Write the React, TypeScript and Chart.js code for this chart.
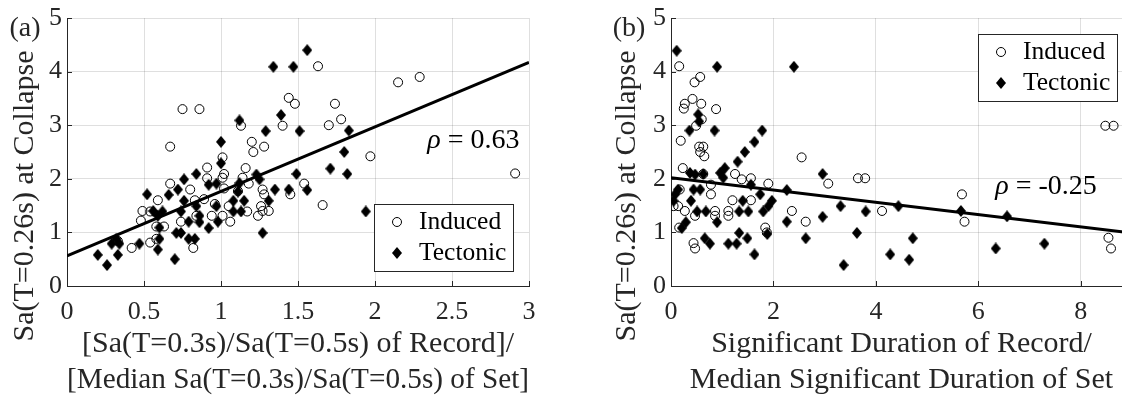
import { useEffect, useRef } from 'react';
import { Chart, registerables } from 'chart.js';

Chart.register(...registerables);

const FONT = "'Liberation Serif', serif";
const INK = '#262626';
const GRID = 'rgba(38, 38, 38, 0.15)';

// (a) Sa(T=0.26s) at collapse against the normalised spectral-shape ratio
const ratioInduced: [number, number][] = [
  [0.75, 3.3], [0.86, 3.3], [0.67, 2.6], [1.01, 2.4], [1.13, 2.99], [1.2, 2.69], [1.21, 2.5],
  [1.28, 2.6], [1.44, 3.51], [1.48, 3.4], [1.4, 2.99], [1.63, 4.1], [2.15, 3.8], [2.29, 3.9],
  [1.74, 3.4], [1.7, 3.0], [1.78, 3.11], [1.97, 2.42], [2.91, 2.1], [1.54, 1.91], [1.66, 1.51],
  [0.91, 2.21], [1.02, 2.09], [1.16, 2.2], [0.91, 2.01], [0.67, 1.91], [0.8, 1.8], [1.01, 2.02],
  [1.02, 1.82], [1.14, 2.02], [1.18, 1.91], [1.27, 1.8], [1.28, 1.71], [1.26, 1.49], [1.27, 1.4],
  [1.31, 1.4], [1.24, 1.31], [1.45, 1.71], [0.59, 1.6], [0.83, 1.6], [0.89, 1.62], [0.49, 1.4],
  [0.54, 1.39], [0.48, 1.22], [0.74, 1.2], [0.84, 1.31], [0.94, 1.31], [1.01, 1.31], [0.96, 1.53],
  [1.05, 1.49], [1.06, 1.2], [1.17, 1.39], [1.11, 1.77], [0.58, 1.11], [0.63, 1.11], [0.58, 0.88],
  [0.82, 0.71], [0.54, 0.81], [0.42, 0.71], [0.33, 0.84],
];
const ratioTectonic: [number, number][] = [
  [1.0, 2.69], [1.12, 3.09], [1.29, 2.89], [1.34, 4.09], [1.47, 4.09], [1.56, 4.4], [1.39, 3.19],
  [1.51, 2.89], [1.83, 2.9], [1.8, 2.5], [1.71, 2.19], [1.82, 2.09], [1.56, 1.79], [1.94, 1.39],
  [1.0, 2.29], [0.84, 2.09], [0.76, 1.99], [0.72, 1.8], [0.92, 1.89], [0.97, 1.91], [1.12, 1.92],
  [1.23, 2.08], [1.25, 1.99], [1.35, 1.8], [1.31, 1.59], [1.27, 0.99], [1.44, 1.8], [1.49, 2.09],
  [0.52, 1.71], [0.66, 1.7], [0.76, 1.59], [0.84, 1.49], [0.56, 1.4], [0.62, 1.39], [0.59, 1.31],
  [0.74, 1.39], [0.79, 1.2], [0.86, 1.31], [0.86, 1.19], [0.92, 1.08], [0.98, 1.2], [0.97, 1.49],
  [1.08, 1.59], [1.08, 1.39], [1.13, 1.39], [1.15, 1.59], [1.11, 1.76], [0.6, 1.09], [0.6, 0.88],
  [0.71, 0.99], [0.74, 0.99], [0.79, 0.88], [0.83, 0.88], [0.59, 0.68], [0.47, 0.79], [0.32, 0.88],
  [0.29, 0.79], [0.34, 0.79], [0.33, 0.58], [0.2, 0.58], [0.26, 0.39], [0.7, 0.5],
];
const ratioFit: [number, number][] = [[0, 0.56], [3, 4.17]];
const ratioRho = 0.63;
const ratioTicks = [0, 0.5, 1, 1.5, 2, 2.5, 3];
const ratioTitle = ['[Sa(T=0.3s)/Sa(T=0.5s) of Record]/', '[Median Sa(T=0.3s)/Sa(T=0.5s) of Set]'];

// (b) Sa(T=0.26s) at collapse against the normalised significant duration
const durationInduced: [number, number][] = [
  [0.16, 4.1], [0.57, 3.9], [0.46, 3.8], [0.42, 3.49], [0.27, 3.4], [0.25, 3.31], [0.59, 3.4],
  [0.88, 3.3], [0.6, 3.11], [0.49, 2.99], [0.19, 2.71], [0.55, 2.6], [0.63, 2.6], [0.57, 2.5],
  [0.65, 2.42], [2.55, 2.4], [0.23, 2.2], [0.63, 2.09], [1.25, 2.09], [1.38, 1.99], [1.56, 2.01],
  [1.9, 1.91], [3.07, 1.91], [3.65, 2.01], [3.79, 2.01], [4.12, 1.4], [2.36, 1.4], [2.63, 1.2],
  [1.56, 1.6], [1.2, 1.6], [1.12, 1.4], [1.12, 1.31], [0.86, 1.4], [0.86, 1.31], [0.27, 1.4],
  [0.47, 1.31], [0.78, 1.71], [0.78, 1.89], [0.05, 1.49], [0.14, 1.49], [0.17, 1.8], [0.16, 1.09],
  [0.44, 0.8], [0.47, 0.7], [1.84, 1.09], [1.87, 1.0], [5.68, 1.71], [5.73, 1.2], [8.54, 0.9],
  [8.59, 0.7], [8.48, 2.99], [8.64, 2.99],
];
const durationTectonic: [number, number][] = [
  [0.11, 4.39], [0.9, 4.09], [2.4, 4.09], [0.53, 3.2], [0.55, 3.07], [0.36, 2.9], [0.85, 2.9],
  [1.78, 2.9], [1.63, 2.69], [1.44, 2.5], [1.3, 2.32], [1.05, 2.2], [0.37, 2.11], [0.47, 2.08],
  [0.63, 2.09], [0.96, 2.11], [1.02, 2.02], [1.56, 1.89], [2.96, 2.09], [2.26, 1.79], [3.31, 1.49],
  [3.8, 1.39], [3.63, 0.99], [3.37, 0.39], [2.26, 1.2], [2.96, 1.29], [2.63, 0.89], [1.74, 1.71],
  [1.97, 1.59], [1.9, 1.49], [1.8, 1.39], [1.4, 1.59], [1.33, 1.39], [1.51, 1.39], [0.9, 1.19],
  [0.68, 1.39], [0.51, 1.39], [0.39, 1.59], [0.44, 1.8], [0.57, 1.8], [0.14, 1.8], [0.08, 1.71],
  [0.05, 1.59], [0.21, 1.08], [0.29, 1.19], [0.66, 0.89], [0.76, 0.79], [1.12, 0.79], [1.28, 0.79],
  [1.33, 0.99], [1.49, 0.89], [1.63, 0.59], [1.88, 0.97], [4.28, 0.59], [4.44, 1.49], [5.66, 1.4],
  [6.56, 1.3], [4.72, 0.89], [4.65, 0.49], [6.34, 0.7], [7.29, 0.79],
];
const durationFit: [number, number][] = [[0, 2.02], [9, 0.99]];
const durationRho = -0.25;
const durationTicks = [0, 2, 4, 6, 8];
const durationTitle = ['Significant Duration of Record/', 'Median Significant Duration of Set'];

const collapseTicks = [0, 1, 2, 3, 4, 5];
const collapseTitle = 'Sa(T=0.26s) at Collapse';
const seriesNames = ['Induced', 'Tectonic'];

function diamondMarker(w: number, h: number): HTMLCanvasElement {
  const c = document.createElement('canvas');
  c.width = w;
  c.height = h;
  const g = c.getContext('2d')!;
  g.fillStyle = '#000';
  g.beginPath();
  g.moveTo(w / 2, 0);
  g.lineTo(w, h / 2);
  g.lineTo(w / 2, h);
  g.lineTo(0, h / 2);
  g.closePath();
  g.fill();
  return c;
}

// Axis tick marks (drawn inward), rotated y title, panel tag, rho note and boxed legend
const decorPlugin = {
  id: 'decor',
  afterDraw(chart: any, _args: any, o: any) {
    const { ctx, chartArea: a } = chart;
    const xs = chart.scales.x;
    const ys = chart.scales.y;
    ctx.save();

    ctx.strokeStyle = INK;
    ctx.lineWidth = 1;
    ctx.beginPath();
    xs.ticks.forEach((t: any) => {
      const p = Math.round(xs.getPixelForValue(t.value)) + 0.5;
      ctx.moveTo(p, a.bottom);
      ctx.lineTo(p, a.bottom - 5);
    });
    ys.ticks.forEach((t: any) => {
      const p = Math.round(ys.getPixelForValue(t.value)) + 0.5;
      ctx.moveTo(a.left, p);
      ctx.lineTo(a.left + 5, p);
    });
    ctx.stroke();

    ctx.fillStyle = INK;
    ctx.textBaseline = 'middle';
    ctx.textAlign = 'center';
    ctx.font = `30px ${FONT}`;
    ctx.save();
    ctx.translate(a.left + o.yTitleDx, o.yTitleY);
    ctx.rotate(-Math.PI / 2);
    ctx.fillText(o.yTitle, 0, 0);
    ctx.restore();

    ctx.font = `28px ${FONT}`;
    ctx.fillText(o.tag, a.left - 42, a.top + 11);

    // correlation coefficient
    const rx = xs.getPixelForValue(o.rhoAt[0]);
    const ry = ys.getPixelForValue(o.rhoAt[1]);
    ctx.textAlign = 'left';
    ctx.fillStyle = '#000';
    ctx.font = `italic 28px ${FONT}`;
    ctx.fillText('ρ', rx, ry);
    const rw = ctx.measureText('ρ').width;
    ctx.font = `28px ${FONT}`;
    ctx.fillText(` = ${o.rho.toFixed(2)}`, rx + rw, ry);

    // legend
    const bw = 139;
    const bh = 67;
    const bx = a.right - o.legendRight - bw;
    const by = o.legendCorner === 'ne' ? a.top + 16 : a.bottom - 15 - bh;
    ctx.fillStyle = '#fff';
    ctx.fillRect(bx, by, bw, bh);
    ctx.strokeStyle = INK;
    ctx.lineWidth = 1;
    ctx.strokeRect(Math.round(bx) + 0.5, Math.round(by) + 0.5, bw, bh);
    ctx.font = `25.5px ${FONT}`;
    const entries = chart.data.datasets.filter((d: any) => d.label);
    entries.forEach((d: any, i: number) => {
      const my = by + 18 + i * 31;
      const mx = bx + 23;
      if (typeof d.pointStyle === 'object') {
        const img = d.pointStyle as HTMLCanvasElement;
        ctx.drawImage(img, mx - img.width / 2, my - img.height / 2);
      } else {
        ctx.beginPath();
        ctx.strokeStyle = '#000';
        ctx.arc(mx, my, 4.5, 0, Math.PI * 2);
        ctx.stroke();
      }
      ctx.fillStyle = '#000';
      ctx.fillText(d.label, bx + 45, my);
    });

    ctx.restore();
  },
};

interface PanelSpec {
  tag: string;
  induced: [number, number][];
  tectonic: [number, number][];
  fit: [number, number][];
  rho: number;
  rhoAt: [number, number];
  xMax: number;
  xTicks: number[];
  xTitle: string[];
  yAxisWidth: number;
  padRight: number;
  yTitleDx: number;
  legendCorner: 'ne' | 'se';
  legendRight: number;
}

function buildConfig(s: PanelSpec, diamond: HTMLCanvasElement): any {
  const pts = (arr: [number, number][]) => arr.map(([x, y]) => ({ x, y }));
  return {
    type: 'scatter',
    data: {
      datasets: [
        {
          data: pts(s.fit),
          showLine: true,
          borderColor: '#000',
          borderWidth: 3,
          pointRadius: 0,
          order: 0,
        },
        {
          label: seriesNames[0],
          data: pts(s.induced),
          pointStyle: 'circle',
          pointRadius: 4.5,
          borderColor: '#000',
          borderWidth: 1,
          backgroundColor: 'rgba(0,0,0,0)',
          order: 2,
        },
        {
          label: seriesNames[1],
          data: pts(s.tectonic),
          pointStyle: diamond,
          pointRadius: 5,
          borderColor: '#000',
          backgroundColor: '#000',
          order: 1,
        },
      ],
    },
    options: {
      animation: false,
      responsive: false,
      devicePixelRatio: 1,
      events: [],
      layout: { padding: { top: 15, right: s.padRight, bottom: 0, left: 0 } },
      plugins: {
        legend: { display: false },
        tooltip: { enabled: false },
        decor: {
          tag: s.tag,
          rho: s.rho,
          rhoAt: s.rhoAt,
          yTitle: collapseTitle,
          yTitleDx: s.yTitleDx,
          yTitleY: 196,
          legendCorner: s.legendCorner,
          legendRight: s.legendRight,
        },
      },
      scales: {
        x: {
          type: 'linear',
          min: 0,
          max: s.xMax,
          afterBuildTicks: (sc: any) => {
            sc.ticks = s.xTicks.map((v) => ({ value: v }));
          },
          afterFit: (sc: any) => {
            sc.height = 112;
          },
          grid: { color: GRID, lineWidth: 1, drawTicks: false },
          border: { display: true, color: INK, width: 1 },
          ticks: {
            padding: 13,
            color: INK,
            font: { family: FONT, size: 26, lineHeight: 1 },
            callback: (v: any) => String(v),
          },
          title: {
            display: true,
            text: s.xTitle,
            color: INK,
            padding: { top: 0, bottom: 0 },
            font: { family: FONT, size: 30, lineHeight: 1.19 },
          },
        },
        y: {
          type: 'linear',
          min: 0,
          max: 5,
          afterBuildTicks: (sc: any) => {
            sc.ticks = collapseTicks.map((v) => ({ value: v }));
          },
          afterFit: (sc: any) => {
            sc.width = s.yAxisWidth;
          },
          grid: { color: GRID, lineWidth: 1, drawTicks: false },
          border: { display: true, color: INK, width: 1 },
          ticks: {
            padding: 5,
            color: INK,
            font: { family: FONT, size: 26, lineHeight: 1 },
            callback: (v: any) => String(v),
          },
        },
      },
    },
    plugins: [decorPlugin],
  };
}

const panelA: PanelSpec = {
  tag: '(a)',
  induced: ratioInduced,
  tectonic: ratioTectonic,
  fit: ratioFit,
  rho: ratioRho,
  rhoAt: [2.34, 2.71],
  xMax: 3,
  xTicks: ratioTicks,
  xTitle: ratioTitle,
  yAxisWidth: 67,
  padRight: 31,
  yTitleDx: -42,
  legendCorner: 'se',
  legendRight: 16,
};

const panelB: PanelSpec = {
  tag: '(b)',
  induced: durationInduced,
  tectonic: durationTectonic,
  fit: durationFit,
  rho: durationRho,
  rhoAt: [6.33, 1.85],
  xMax: 9,
  xTicks: durationTicks,
  xTitle: durationTitle,
  yAxisWidth: 81,
  padRight: 18,
  yTitleDx: -44,
  legendCorner: 'ne',
  legendRight: 15,
};

export default function App() {
  const refA = useRef<HTMLCanvasElement>(null);
  const refB = useRef<HTMLCanvasElement>(null);

  useEffect(() => {
    let a: Chart | null = null;
    let b: Chart | null = null;
    let cancelled = false;
    const diamond = diamondMarker(10, 12);
    const ready = Promise.all([
      document.fonts.load(`30px ${FONT}`),
      document.fonts.load(`italic 28px ${FONT}`),
    ]).catch(() => undefined);
    ready.then(() => {
      if (cancelled) return;
      a = new Chart(refA.current!, buildConfig(panelA, diamond));
      b = new Chart(refB.current!, buildConfig(panelB, diamond));
    });
    return () => {
      cancelled = true;
      a?.destroy();
      b?.destroy();
    };
  }, []);

  return (
    <div
      style={{
        position: 'fixed',
        left: 0,
        top: 0,
        width: 1122,
        height: 398,
        overflow: 'hidden',
        background: '#fff',
        fontFamily: FONT,
      }}
    >
      <span style={{ position: 'absolute', left: 0, top: 0, opacity: 0, fontSize: 30 }}>
        Sa <i>ρ</i>
      </span>
      <canvas ref={refA} width={560} height={398} style={{ position: 'absolute', left: 0, top: 0 }} />
      <canvas ref={refB} width={560} height={398} style={{ position: 'absolute', left: 590, top: 0 }} />
    </div>
  );
}
